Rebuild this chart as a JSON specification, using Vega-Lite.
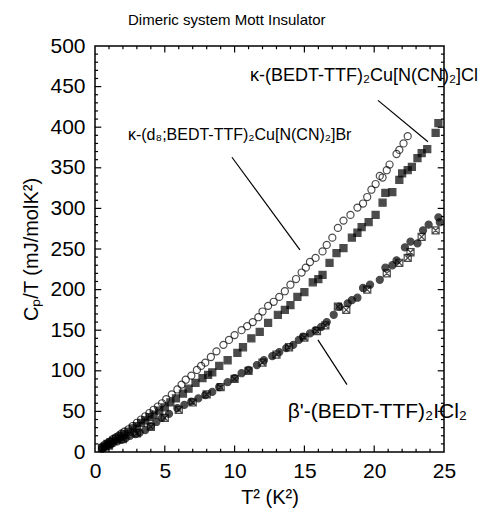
{
  "$schema": "https://vega.github.io/schema/vega-lite/v6.json",
  "width": 349,
  "height": 406,
  "autosize": {"type": "none"},
  "padding": {"left": 95, "top": 46, "right": 36, "bottom": 63},
  "background": "white",
  "config": {
    "view": {"stroke": "black", "strokeWidth": 1.5},
    "font": "Liberation Sans",
    "axis": {"domain": false, "grid": false, "labelFont": "Liberation Sans", "titleFont": "Liberation Sans", "labelColor": "black", "titleColor": "black", "tickColor": "black", "titleFontWeight": "normal"}
  },
  "title": {"text": "Dimeric system Mott Insulator", "anchor": "start", "frame": "group", "dx": 33, "fontSize": 15, "fontWeight": "normal", "font": "Liberation Sans", "offset": 7, "color": "black"},
  "datasets": {
    "pts": [
      {"s": "Br", "x": 0.5, "y": 6}, {"s": "Br", "x": 0.7, "y": 9}, {"s": "Br", "x": 0.9, "y": 11}, {"s": "Br", "x": 1.1, "y": 13}, {"s": "Br", "x": 1.3, "y": 16}, {"s": "Br", "x": 1.5, "y": 18}, {"s": "Br", "x": 1.7, "y": 20}, {"s": "Br", "x": 1.9, "y": 23}, {"s": "Br", "x": 2.1, "y": 25}, {"s": "Br", "x": 2.4, "y": 28}, {"s": "Br", "x": 2.7, "y": 32}, {"s": "Br", "x": 3.0, "y": 36}, {"s": "Br", "x": 3.3, "y": 40}, {"s": "Br", "x": 3.6, "y": 44}, {"s": "Br", "x": 3.9, "y": 48}, {"s": "Br", "x": 4.2, "y": 52}, {"s": "Br", "x": 4.5, "y": 56}, {"s": "Br", "x": 4.8, "y": 60}, {"s": "Br", "x": 5.1, "y": 65}, {"s": "Br", "x": 5.5, "y": 71}, {"s": "Br", "x": 5.9, "y": 77}, {"s": "Br", "x": 6.2, "y": 83}, {"s": "Br", "x": 6.5, "y": 89}, {"s": "Br", "x": 6.9, "y": 94}, {"s": "Br", "x": 7.3, "y": 101}, {"s": "Br", "x": 7.6, "y": 106}, {"s": "Br", "x": 7.9, "y": 110}, {"s": "Br", "x": 8.3, "y": 117}, {"s": "Br", "x": 8.7, "y": 124}, {"s": "Br", "x": 9.2, "y": 132}, {"s": "Br", "x": 9.6, "y": 138}, {"s": "Br", "x": 10.0, "y": 144}, {"s": "Br", "x": 10.5, "y": 150}, {"s": "Br", "x": 10.9, "y": 155}, {"s": "Br", "x": 11.3, "y": 160}, {"s": "Br", "x": 11.7, "y": 166}, {"s": "Br", "x": 12.0, "y": 173}, {"s": "Br", "x": 12.4, "y": 180}, {"s": "Br", "x": 12.8, "y": 185}, {"s": "Br", "x": 13.2, "y": 191}, {"s": "Br", "x": 13.6, "y": 198}, {"s": "Br", "x": 14.0, "y": 206}, {"s": "Br", "x": 14.4, "y": 213}, {"s": "Br", "x": 14.8, "y": 221}, {"s": "Br", "x": 15.1, "y": 227}, {"s": "Br", "x": 15.4, "y": 234}, {"s": "Br", "x": 15.8, "y": 239}, {"s": "Br", "x": 16.3, "y": 247}, {"s": "Br", "x": 16.6, "y": 255}, {"s": "Br", "x": 17.0, "y": 264}, {"s": "Br", "x": 17.4, "y": 276}, {"s": "Br", "x": 17.8, "y": 285}, {"s": "Br", "x": 18.3, "y": 292}, {"s": "Br", "x": 18.8, "y": 301}, {"s": "Br", "x": 19.2, "y": 306}, {"s": "Br", "x": 19.5, "y": 314}, {"s": "Br", "x": 19.8, "y": 323}, {"s": "Br", "x": 20.1, "y": 330}, {"s": "Br", "x": 20.4, "y": 340}, {"s": "Br", "x": 20.6, "y": 338}, {"s": "Br", "x": 20.9, "y": 347}, {"s": "Br", "x": 21.1, "y": 354}, {"s": "Br", "x": 21.6, "y": 367}, {"s": "Br", "x": 21.8, "y": 372}, {"s": "Br", "x": 22.1, "y": 380}, {"s": "Br", "x": 22.4, "y": 389},
      {"s": "Cl", "x": 0.5, "y": 5}, {"s": "Cl", "x": 0.7, "y": 7}, {"s": "Cl", "x": 0.9, "y": 10}, {"s": "Cl", "x": 1.1, "y": 12}, {"s": "Cl", "x": 1.3, "y": 14}, {"s": "Cl", "x": 1.5, "y": 16}, {"s": "Cl", "x": 1.7, "y": 18}, {"s": "Cl", "x": 1.9, "y": 20}, {"s": "Cl", "x": 2.1, "y": 22}, {"s": "Cl", "x": 2.4, "y": 25}, {"s": "Cl", "x": 2.7, "y": 29}, {"s": "Cl", "x": 3.0, "y": 32}, {"s": "Cl", "x": 3.3, "y": 36}, {"s": "Cl", "x": 3.6, "y": 39}, {"s": "Cl", "x": 3.9, "y": 43}, {"s": "Cl", "x": 4.2, "y": 46}, {"s": "Cl", "x": 4.6, "y": 51}, {"s": "Cl", "x": 5.0, "y": 55}, {"s": "Cl", "x": 5.4, "y": 61}, {"s": "Cl", "x": 5.8, "y": 66}, {"s": "Cl", "x": 6.3, "y": 72}, {"s": "Cl", "x": 6.7, "y": 78}, {"s": "Cl", "x": 7.2, "y": 85}, {"s": "Cl", "x": 7.7, "y": 91}, {"s": "Cl", "x": 8.1, "y": 95}, {"s": "Cl", "x": 8.4, "y": 98}, {"s": "Cl", "x": 8.9, "y": 106}, {"s": "Cl", "x": 9.5, "y": 113}, {"s": "Cl", "x": 10.2, "y": 122}, {"s": "Cl", "x": 10.6, "y": 129}, {"s": "Cl", "x": 11.2, "y": 140}, {"s": "Cl", "x": 11.8, "y": 148}, {"s": "Cl", "x": 12.4, "y": 159}, {"s": "Cl", "x": 13.1, "y": 169}, {"s": "Cl", "x": 13.6, "y": 175}, {"s": "Cl", "x": 14.0, "y": 181}, {"s": "Cl", "x": 14.5, "y": 191}, {"s": "Cl", "x": 15.0, "y": 197}, {"s": "Cl", "x": 15.6, "y": 209}, {"s": "Cl", "x": 16.0, "y": 213}, {"s": "Cl", "x": 16.3, "y": 218}, {"s": "Cl", "x": 16.8, "y": 233}, {"s": "Cl", "x": 17.3, "y": 245}, {"s": "Cl", "x": 17.8, "y": 251}, {"s": "Cl", "x": 18.4, "y": 264}, {"s": "Cl", "x": 18.8, "y": 270}, {"s": "Cl", "x": 19.1, "y": 277}, {"s": "Cl", "x": 19.6, "y": 283}, {"s": "Cl", "x": 20.1, "y": 292}, {"s": "Cl", "x": 20.6, "y": 307}, {"s": "Cl", "x": 20.8, "y": 319}, {"s": "Cl", "x": 21.3, "y": 320}, {"s": "Cl", "x": 21.8, "y": 335}, {"s": "Cl", "x": 22.0, "y": 343}, {"s": "Cl", "x": 22.4, "y": 347}, {"s": "Cl", "x": 22.7, "y": 351}, {"s": "Cl", "x": 23.1, "y": 362}, {"s": "Cl", "x": 23.4, "y": 368}, {"s": "Cl", "x": 23.8, "y": 373}, {"s": "Cl", "x": 24.4, "y": 393}, {"s": "Cl", "x": 24.6, "y": 405},
      {"s": "Ia", "x": 0.5, "y": 4}, {"s": "Ia", "x": 0.7, "y": 6}, {"s": "Ia", "x": 0.9, "y": 8}, {"s": "Ia", "x": 1.1, "y": 9}, {"s": "Ia", "x": 1.3, "y": 11}, {"s": "Ia", "x": 1.6, "y": 13}, {"s": "Ia", "x": 1.9, "y": 15}, {"s": "Ia", "x": 2.2, "y": 17}, {"s": "Ia", "x": 2.5, "y": 20}, {"s": "Ia", "x": 2.9, "y": 22}, {"s": "Ia", "x": 3.2, "y": 24}, {"s": "Ia", "x": 3.6, "y": 27}, {"s": "Ia", "x": 4.0, "y": 32}, {"s": "Ia", "x": 4.4, "y": 37}, {"s": "Ia", "x": 4.8, "y": 42}, {"s": "Ia", "x": 5.3, "y": 47}, {"s": "Ia", "x": 5.9, "y": 54}, {"s": "Ia", "x": 6.4, "y": 58}, {"s": "Ia", "x": 6.9, "y": 62}, {"s": "Ia", "x": 7.4, "y": 66}, {"s": "Ia", "x": 7.9, "y": 70}, {"s": "Ia", "x": 8.4, "y": 74}, {"s": "Ia", "x": 8.9, "y": 80}, {"s": "Ia", "x": 9.5, "y": 86}, {"s": "Ia", "x": 10.0, "y": 91}, {"s": "Ia", "x": 10.5, "y": 97}, {"s": "Ia", "x": 11.0, "y": 101}, {"s": "Ia", "x": 11.6, "y": 107}, {"s": "Ia", "x": 12.1, "y": 113}, {"s": "Ia", "x": 12.7, "y": 118}, {"s": "Ia", "x": 13.2, "y": 123}, {"s": "Ia", "x": 13.7, "y": 128}, {"s": "Ia", "x": 14.2, "y": 132}, {"s": "Ia", "x": 14.6, "y": 138}, {"s": "Ia", "x": 14.9, "y": 142}, {"s": "Ia", "x": 15.4, "y": 146}, {"s": "Ia", "x": 15.8, "y": 150}, {"s": "Ia", "x": 16.2, "y": 154}, {"s": "Ia", "x": 16.6, "y": 160}, {"s": "Ia", "x": 17.1, "y": 169}, {"s": "Ia", "x": 17.5, "y": 179}, {"s": "Ia", "x": 18.1, "y": 183}, {"s": "Ia", "x": 18.4, "y": 187}, {"s": "Ia", "x": 18.8, "y": 190}, {"s": "Ia", "x": 19.2, "y": 202}, {"s": "Ia", "x": 19.7, "y": 206}, {"s": "Ia", "x": 20.4, "y": 212}, {"s": "Ia", "x": 20.8, "y": 227}, {"s": "Ia", "x": 21.3, "y": 230}, {"s": "Ia", "x": 21.6, "y": 236}, {"s": "Ia", "x": 22.2, "y": 252}, {"s": "Ia", "x": 22.6, "y": 259}, {"s": "Ia", "x": 23.1, "y": 257}, {"s": "Ia", "x": 23.5, "y": 273}, {"s": "Ia", "x": 23.9, "y": 280}, {"s": "Ia", "x": 24.6, "y": 289}, {"s": "Ia", "x": 24.7, "y": 283},
      {"s": "Ib", "x": 1.0, "y": 8}, {"s": "Ib", "x": 2.0, "y": 16}, {"s": "Ib", "x": 3.0, "y": 23}, {"s": "Ib", "x": 4.0, "y": 31}, {"s": "Ib", "x": 5.0, "y": 42}, {"s": "Ib", "x": 6.0, "y": 52}, {"s": "Ib", "x": 7.0, "y": 61}, {"s": "Ib", "x": 8.0, "y": 71}, {"s": "Ib", "x": 9.0, "y": 80}, {"s": "Ib", "x": 10.0, "y": 90}, {"s": "Ib", "x": 11.0, "y": 100}, {"s": "Ib", "x": 12.0, "y": 110}, {"s": "Ib", "x": 13.0, "y": 120}, {"s": "Ib", "x": 13.9, "y": 129}, {"s": "Ib", "x": 15.0, "y": 141}, {"s": "Ib", "x": 15.9, "y": 149}, {"s": "Ib", "x": 16.5, "y": 156}, {"s": "Ib", "x": 17.4, "y": 179}, {"s": "Ib", "x": 18.0, "y": 175}, {"s": "Ib", "x": 19.5, "y": 200}, {"s": "Ib", "x": 20.9, "y": 220}, {"s": "Ib", "x": 21.8, "y": 233}, {"s": "Ib", "x": 22.4, "y": 239}, {"s": "Ib", "x": 22.6, "y": 246}, {"s": "Ib", "x": 23.4, "y": 265}, {"s": "Ib", "x": 24.4, "y": 273}
    ],
    "notes": [
      {"id": "Cl", "x": 11.1, "y": 463, "label": "κ-(BEDT-TTF)₂Cu[N(CN)₂]Cl"},
      {"id": "Br", "x": 2.36, "y": 390, "label": "κ-(d₈;BEDT-TTF)₂Cu[N(CN)₂]Br"},
      {"id": "I", "x": 13.8, "y": 49, "label": "β'-(BEDT-TTF)₂ICl₂"}
    ],
    "pointers": [
      {"x": 9.81, "y": 363, "x2": 14.68, "y2": 249},
      {"x": 20.27, "y": 433, "x2": 23.85, "y2": 382},
      {"x": 15.97, "y": 138, "x2": 18.05, "y2": 83}
    ],
    "xmajor": [{"v": 5}, {"v": 10}, {"v": 15}, {"v": 20}],
    "xminor": [{"v": 1}, {"v": 2}, {"v": 3}, {"v": 4}, {"v": 6}, {"v": 7}, {"v": 8}, {"v": 9}, {"v": 11}, {"v": 12}, {"v": 13}, {"v": 14}, {"v": 16}, {"v": 17}, {"v": 18}, {"v": 19}, {"v": 21}, {"v": 22}, {"v": 23}, {"v": 24}],
    "ymajor": [{"v": 50}, {"v": 100}, {"v": 150}, {"v": 200}, {"v": 250}, {"v": 300}, {"v": 350}, {"v": 400}, {"v": 450}],
    "yminor": [{"v": 10}, {"v": 20}, {"v": 30}, {"v": 40}, {"v": 60}, {"v": 70}, {"v": 80}, {"v": 90}, {"v": 110}, {"v": 120}, {"v": 130}, {"v": 140}, {"v": 160}, {"v": 170}, {"v": 180}, {"v": 190}, {"v": 210}, {"v": 220}, {"v": 230}, {"v": 240}, {"v": 260}, {"v": 270}, {"v": 280}, {"v": 290}, {"v": 310}, {"v": 320}, {"v": 330}, {"v": 340}, {"v": 360}, {"v": 370}, {"v": 380}, {"v": 390}, {"v": 410}, {"v": 420}, {"v": 430}, {"v": 440}, {"v": 460}, {"v": 470}, {"v": 480}, {"v": 490}]
  },
  "resolve": {"axis": {"x": "independent", "y": "independent"}},
  "layer": [
    {
      "data": {"name": "xmajor"},
      "mark": {"type": "rule", "color": "black", "strokeWidth": 1.2},
      "encoding": {"x": {"field": "v", "type": "quantitative", "scale": {"domain": [0, 25], "nice": false}, "axis": null}, "y": {"datum": 0, "type": "quantitative", "scale": {"domain": [0, 500], "nice": false}, "axis": null}, "y2": {"datum": 8}}
    },
    {
      "data": {"name": "xmajor"},
      "mark": {"type": "rule", "color": "black", "strokeWidth": 1.2},
      "encoding": {"x": {"field": "v", "type": "quantitative", "axis": null}, "y": {"datum": 500, "type": "quantitative", "axis": null}, "y2": {"datum": 492}}
    },
    {
      "data": {"name": "xminor"},
      "mark": {"type": "rule", "color": "black", "strokeWidth": 1.2},
      "encoding": {"x": {"field": "v", "type": "quantitative", "axis": null}, "y": {"datum": 0, "type": "quantitative", "axis": null}, "y2": {"datum": 4}}
    },
    {
      "data": {"name": "xminor"},
      "mark": {"type": "rule", "color": "black", "strokeWidth": 1.2},
      "encoding": {"x": {"field": "v", "type": "quantitative", "axis": null}, "y": {"datum": 500, "type": "quantitative", "axis": null}, "y2": {"datum": 496}}
    },
    {
      "data": {"name": "ymajor"},
      "mark": {"type": "rule", "color": "black", "strokeWidth": 1.2},
      "encoding": {"y": {"field": "v", "type": "quantitative", "axis": null}, "x": {"datum": 0, "type": "quantitative", "axis": null}, "x2": {"datum": 0.45}}
    },
    {
      "data": {"name": "ymajor"},
      "mark": {"type": "rule", "color": "black", "strokeWidth": 1.2},
      "encoding": {"y": {"field": "v", "type": "quantitative", "axis": null}, "x": {"datum": 25, "type": "quantitative", "axis": null}, "x2": {"datum": 24.55}}
    },
    {
      "data": {"name": "yminor"},
      "mark": {"type": "rule", "color": "black", "strokeWidth": 1.2},
      "encoding": {"y": {"field": "v", "type": "quantitative", "axis": null}, "x": {"datum": 0, "type": "quantitative", "axis": null}, "x2": {"datum": 0.22}}
    },
    {
      "data": {"name": "yminor"},
      "mark": {"type": "rule", "color": "black", "strokeWidth": 1.2},
      "encoding": {"y": {"field": "v", "type": "quantitative", "axis": null}, "x": {"datum": 25, "type": "quantitative", "axis": null}, "x2": {"datum": 24.78}}
    },
    {
      "data": {"name": "pts"},
      "mark": {"type": "point", "filled": true, "stroke": "black", "strokeWidth": 1.2, "size": 50},
      "encoding": {
        "x": {"field": "x", "type": "quantitative",
              "axis": {"orient": "bottom", "values": [0, 5, 10, 15, 20, 25], "ticks": false, "labelFontSize": 21, "labelPadding": 8, "title": "T² (K²)", "titleFontSize": 20, "titlePadding": 6, "labelFlush": false}},
        "y": {"field": "y", "type": "quantitative",
              "axis": {"orient": "left", "values": [0, 50, 100, 150, 200, 250, 300, 350, 400, 450, 500], "ticks": false, "labelFontSize": 21, "labelPadding": 10, "title": "Cₚ/T (mJ/molK²)", "titleFontSize": 20, "titlePadding": 8, "labelFlush": false}},
        "shape": {"field": "s", "type": "nominal", "legend": null,
                  "scale": {"domain": ["Br", "Cl", "Ia", "Ib"], "range": ["circle", "square", "circle", "M-1,-1H1V1H-1ZM-1,-1L1,1M1,-1L-1,1"]}},
        "fill": {"field": "s", "type": "nominal", "legend": null,
                 "scale": {"domain": ["Br", "Cl", "Ia", "Ib"], "range": ["transparent", "black", "black", "transparent"]}}
      }
    },
    {
      "data": {"name": "pointers"},
      "mark": {"type": "rule", "color": "black", "strokeWidth": 1.2},
      "encoding": {
        "x": {"field": "x", "type": "quantitative", "axis": null},
        "y": {"field": "y", "type": "quantitative", "axis": null},
        "x2": {"field": "x2"},
        "y2": {"field": "y2"}
      }
    },
    {
      "data": {"name": "notes"},
      "transform": [{"filter": "datum.id === 'Cl'"}],
      "mark": {"type": "text", "align": "left", "baseline": "middle", "fontSize": 18, "font": "Liberation Sans", "color": "black"},
      "encoding": {
        "x": {"field": "x", "type": "quantitative", "axis": null},
        "y": {"field": "y", "type": "quantitative", "axis": null},
        "text": {"field": "label"}
      }
    },
    {
      "data": {"name": "notes"},
      "transform": [{"filter": "datum.id === 'Br'"}],
      "mark": {"type": "text", "align": "left", "baseline": "middle", "fontSize": 16, "font": "Liberation Sans", "color": "black"},
      "encoding": {
        "x": {"field": "x", "type": "quantitative", "axis": null},
        "y": {"field": "y", "type": "quantitative", "axis": null},
        "text": {"field": "label"}
      }
    },
    {
      "data": {"name": "notes"},
      "transform": [{"filter": "datum.id === 'I'"}],
      "mark": {"type": "text", "align": "left", "baseline": "middle", "fontSize": 21, "font": "Liberation Sans", "color": "black"},
      "encoding": {
        "x": {"field": "x", "type": "quantitative", "axis": null},
        "y": {"field": "y", "type": "quantitative", "axis": null},
        "text": {"field": "label"}
      }
    }
  ]
}
